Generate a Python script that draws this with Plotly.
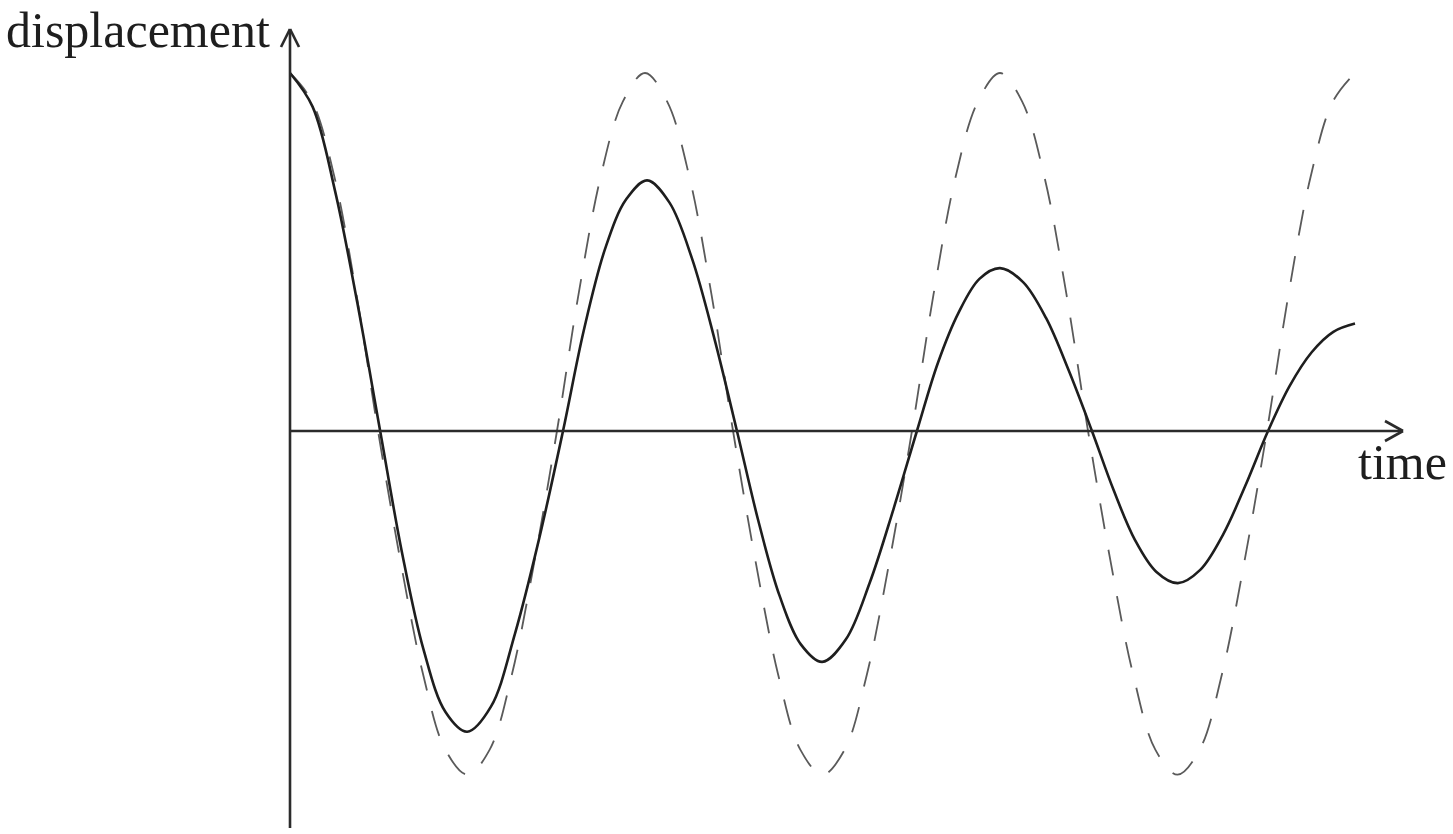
"""
Damped vs. undamped oscillation sketch: displacement against time.

Dashed line = free (undamped) oscillation, solid line = damped oscillation.
Values were read off the reference picture; time is in periods, displacement
in units of the starting amplitude.
"""

import plotly.graph_objects as go

# ---------------------------------------------------------------------------
# Data
# ---------------------------------------------------------------------------

free_t = [0.0, 0.0625, 0.125, 0.1875, 0.248, 0.3125, 0.375, 0.4375,
          0.5, 0.5625, 0.625, 0.6875, 0.752, 0.8125, 0.875, 0.9375,
          1.0, 1.0625, 1.125, 1.1875, 1.248, 1.3125, 1.375, 1.4375,
          1.5, 1.5625, 1.625, 1.6875, 1.752, 1.8125, 1.875, 1.9375,
          2.0, 2.0625, 2.125, 2.1875, 2.248, 2.3125, 2.375, 2.4375,
          2.5, 2.5625, 2.625, 2.6875, 2.752, 2.8125, 2.875, 2.9375, 3.0]
free_disp = [1.00, 0.92, 0.71, 0.38, 0.00, -0.37, -0.68, -0.89,
             -0.96, -0.89, -0.68, -0.37, 0.00, 0.38, 0.71, 0.92,
             1.00, 0.92, 0.71, 0.38, 0.00, -0.37, -0.68, -0.89,
             -0.96, -0.89, -0.68, -0.37, 0.00, 0.38, 0.71, 0.92,
             1.00, 0.92, 0.71, 0.38, 0.00, -0.37, -0.68, -0.89,
             -0.96, -0.89, -0.68, -0.37, 0.00, 0.38, 0.71, 0.92, 1.00]

damped_t = [0.0, 0.0635, 0.127, 0.19, 0.254, 0.315, 0.376, 0.438,
            0.499, 0.566, 0.634, 0.702, 0.769, 0.828, 0.888, 0.947,
            1.006, 1.069, 1.133, 1.196, 1.259, 1.319, 1.379, 1.439,
            1.499, 1.566, 1.633, 1.70, 1.766, 1.825, 1.883, 1.942,
            2.0, 2.065, 2.13, 2.194, 2.259, 2.32, 2.38, 2.44,
            2.501, 2.564, 2.628, 2.691, 2.755, 2.816, 2.878, 2.939, 3.0]
damped_disp = [1.00, 0.906, 0.67, 0.356, 0.00, -0.337, -0.61, -0.785,
               -0.84, -0.77, -0.565, -0.30, 0.00, 0.283, 0.51, 0.647,
               0.70, 0.638, 0.48, 0.256, 0.00, -0.25, -0.46, -0.596,
               -0.645, -0.582, -0.424, -0.218, 0.00, 0.19, 0.33, 0.425,
               0.455, 0.416, 0.315, 0.168, 0.00, -0.165, -0.304, -0.393,
               -0.425, -0.388, -0.29, -0.153, 0.00, 0.126, 0.22, 0.277, 0.30]

x_label = "time"
y_label = "displacement"

# ---------------------------------------------------------------------------
# Canvas geometry (pixels)
# ---------------------------------------------------------------------------

W, H = 1453, 834
X0, X_PX = 290, 355      # pixel of t=0, pixels per period
Y0, Y_PX = 431, 358      # pixel of disp=0, pixels per unit amplitude


def px_x(p):
    return (p - X0) / X_PX


def px_y(p):
    return (Y0 - p) / Y_PX


AXIS = "#2b2b2b"
INK = "#1e1e1e"
DASH = "#5a5a5a"
FONT = "Liberation Serif"


def axis_shapes():
    line = dict(color=AXIS, width=2.6)
    segs = [
        # y axis + open arrowhead
        ((290, 828), (290, 29)),
        ((281, 47), (290, 29)),
        ((299, 47), (290, 29)),
        # x axis + open arrowhead
        ((290, 431), (1403, 431)),
        ((1385, 421), (1403, 431)),
        ((1385, 441), (1403, 431)),
    ]
    return [
        dict(type="line", xref="x", yref="y",
             x0=px_x(a[0]), y0=px_y(a[1]), x1=px_x(b[0]), y1=px_y(b[1]),
             line=line, layer="above")
        for a, b in segs
    ]


def main() -> None:
    fig = go.Figure()
    fig.add_trace(go.Scatter(
        x=free_t, y=free_disp, mode="lines",
        line=dict(color=DASH, width=1.8, dash="26px,21px", shape="spline"),
        hoverinfo="skip",
    ))
    fig.add_trace(go.Scatter(
        x=damped_t, y=damped_disp, mode="lines",
        line=dict(color=INK, width=2.6, shape="spline"),
        hoverinfo="skip",
    ))

    fig.update_layout(
        width=W, height=H,
        margin=dict(l=0, r=0, t=0, b=0),
        paper_bgcolor="white", plot_bgcolor="white",
        showlegend=False,
        xaxis=dict(range=[px_x(0), px_x(W)], visible=False, fixedrange=True),
        yaxis=dict(range=[px_y(H), px_y(0)], visible=False, fixedrange=True),
        shapes=axis_shapes(),
        annotations=[
            dict(text=y_label, x=px_x(4), y=px_y(30), xref="x", yref="y",
                 xanchor="left", yanchor="middle", showarrow=False,
                 font=dict(family=FONT, size=50, color=INK)),
            dict(text=x_label, x=px_x(1356), y=px_y(462), xref="x", yref="y",
                 xanchor="left", yanchor="middle", showarrow=False,
                 font=dict(family=FONT, size=50, color=INK)),
        ],
    )
    # page body has an 8px default margin; drop it so the chart sits at 0,0
    fig.write_html(
        "out.html",
        config={"displayModeBar": False},
        post_script="document.body.style.margin='0';",
    )


if __name__ == "__main__":
    main()
